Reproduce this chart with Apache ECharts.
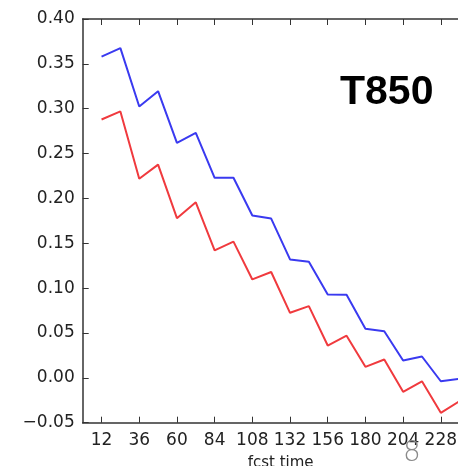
<!DOCTYPE html>
<html>
<head>
<meta charset="utf-8">
<script src="https://cdn.jsdelivr.net/npm/echarts@6/dist/echarts.min.js"></script>
<style>
html,body{margin:0;padding:0;background:#fff;}
#chart{width:458px;height:466px;}
</style>
</head>
<body>
<div id="chart"></div>
<script>
var fcstHours = [12,24,36,48,60,72,84,96,108,120,132,144,156,168,180,192,204,216,228,240];
var blueValues = [0.358,0.3675,0.3025,0.3195,0.262,0.273,0.223,0.223,0.181,0.1775,0.132,0.1295,0.093,0.0926,0.0547,0.052,0.0193,0.0238,-0.0038,-0.001];
var redValues = [0.288,0.297,0.222,0.2377,0.178,0.1957,0.142,0.1518,0.1097,0.118,0.0725,0.080,0.036,0.047,0.0123,0.0204,-0.0156,-0.0038,-0.039,-0.026];
var xTickLabels = [12,36,60,84,108,132,156,180,204,228];
var xLabel = 'fcst time';
var panelTitle = 'T850';
var pageNumber = '8';

function pairs(xs, ys){ return xs.map(function(x,i){ return [x, ys[i]]; }); }
function fmtY(v){
  var r = Math.round(v*100)/100;
  return (r < 0 ? '\u2212' : '') + Math.abs(r).toFixed(2);
}
var axisColor = '#333';
var textColor = '#222';
var font = 'DejaVu Sans';

var chart = echarts.init(document.getElementById('chart'), null, {renderer:'canvas'});
chart.setOption({
  animation:false,
  backgroundColor:'#fff',
  grid:{left:82.7, top:19, width:395.8, bottom:43.3, containLabel:false, outerBoundsMode:'none'},
  xAxis:[{
    type:'value', min:0, max:252, position:'bottom',
    name:xLabel, nameLocation:'middle', nameGap:33,
    nameTextStyle:{fontFamily:font, fontSize:15, color:textColor},
    axisLine:{show:true, onZero:false, lineStyle:{color:axisColor, width:1.5}},
    axisTick:{show:true, inside:true, length:6, customValues:xTickLabels, lineStyle:{color:axisColor, width:1}},
    axisLabel:{show:true, customValues:xTickLabels, fontFamily:font, fontSize:17, color:textColor, margin:9},
    splitLine:{show:false}
  },{
    type:'value', min:0, max:252, position:'top',
    axisLine:{show:true, onZero:false, lineStyle:{color:axisColor, width:1.5}},
    axisTick:{show:true, inside:true, length:6, customValues:xTickLabels, lineStyle:{color:axisColor, width:1}},
    axisLabel:{show:false},
    splitLine:{show:false}
  }],
  yAxis:[{
    type:'value', min:-0.05, max:0.40, interval:0.05,
    axisLine:{show:true, onZero:false, lineStyle:{color:axisColor, width:1.5}},
    axisTick:{show:true, inside:true, length:6, lineStyle:{color:axisColor, width:1}},
    axisLabel:{show:true, formatter:fmtY, fontFamily:font, fontSize:17, color:textColor, margin:8},
    splitLine:{show:false}
  }],
  series:[{
    type:'line', data:pairs(fcstHours, blueValues), xAxisIndex:0, yAxisIndex:0,
    showSymbol:false, symbol:'none', lineStyle:{color:'#3a3af0', width:2}, itemStyle:{color:'#3a3af0'}
  },{
    type:'line', data:pairs(fcstHours, redValues), xAxisIndex:0, yAxisIndex:0,
    showSymbol:false, symbol:'none', lineStyle:{color:'#f03a3e', width:2}, itemStyle:{color:'#f03a3e'}
  }],
  graphic:[{
    type:'text', left:340, top:72,
    style:{text:panelTitle, fontFamily:'Liberation Sans', fontWeight:'bold', fontSize:41, fill:'#000'}
  },{
    type:'text', left:403, top:440, z:100,
    style:{text:pageNumber, fontFamily:'DejaVu Sans', fontWeight:'lighter', fontSize:28, fill:'#8a8a8a'}
  }]
});
</script>
</body>
</html>
